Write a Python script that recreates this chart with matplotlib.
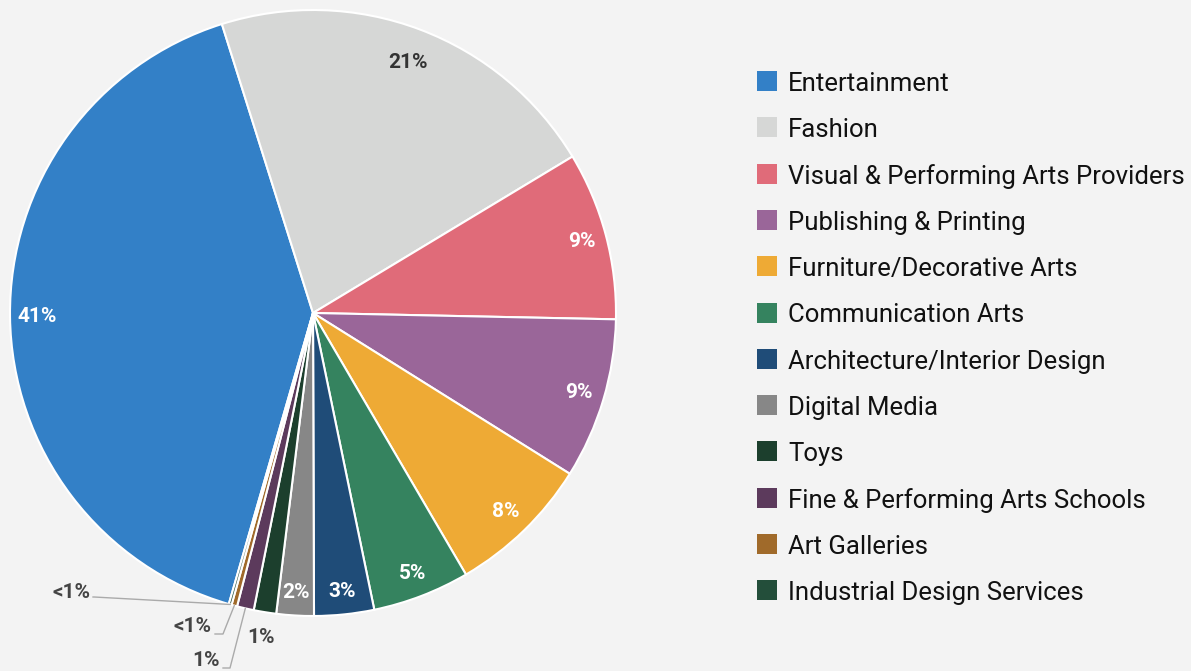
import numpy as np
import matplotlib
matplotlib.use("Agg")
import matplotlib.pyplot as plt
from matplotlib.patches import Rectangle

categories = ["Entertainment", "Fashion", "Visual & Performing Arts Providers",
              "Publishing & Printing", "Furniture/Decorative Arts", "Communication Arts",
              "Architecture/Interior Design", "Digital Media", "Toys",
              "Fine & Performing Arts Schools", "Art Galleries", "Industrial Design Services"]
values = [40.8, 21.3, 9.0, 8.6, 7.7, 5.2, 3.2, 2.0, 1.2, 0.9, 0.3, 0.15]
pct_labels = ["41%", "21%", "9%", "9%", "8%", "5%", "3%", "2%", "1%", "1%", "<1%", "<1%"]
colors = ["#3380c7", "#d6d7d6", "#e06b79", "#9a6699", "#eeaa35", "#35835f",
          "#1f4c78", "#878787", "#1c3f2d", "#5c3a5c", "#a06a2a", "#234e3a"]

BG = "#f3f3f3"
W, H = 1191, 671
fig = plt.figure(figsize=(W / 100, H / 100), dpi=100, facecolor=BG)

cx, cy, R = 313, 313, 303
ax = fig.add_axes([(cx - R) / W, (H - cy - R) / H, 2 * R / W, 2 * R / H])
ax.set_facecolor(BG)

total = sum(values)
start = 107.5 + 360 * values[0] / total
wedges, _ = ax.pie(values, colors=colors, startangle=start, counterclock=False,
                   radius=1, wedgeprops=dict(edgecolor="white", linewidth=1.5))
ax.set_xlim(-1, 1)
ax.set_ylim(-1, 1)
ax.axis("off")
for w in wedges:
    w.set_clip_on(False)

def px2d(x, y):
    return (x - cx) / R, (cy - y) / R

lab_font = dict(family="Roboto", weight="bold", fontsize=15)
inside_r = {0: 0.91, 1: 0.885, 2: 0.92, 3: 0.915, 4: 0.915, 5: 0.92, 6: 0.925, 7: 0.925}
for i, w in enumerate(wedges):
    mid = np.deg2rad((w.theta1 + w.theta2) / 2)
    if i in inside_r:
        r = inside_r[i]
        col = "#333333" if i == 1 else "white"
        ax.text(r * np.cos(mid), r * np.sin(mid), pct_labels[i], ha="center", va="center",
                color=col, **lab_font)

# Toys label just outside
w = wedges[8]
mid = np.deg2rad((w.theta1 + w.theta2) / 2)
ax.text(1.085 * np.cos(mid), 1.085 * np.sin(mid), pct_labels[8], ha="center", va="center",
        color="#444444", **lab_font)

# leader-line labels: (index, text right end px, knee px)
leaders = [(11, (90, 593), (94, 597)),
           (10, (212, 627), (223, 634)),
           (9, (220, 661), (230, 668))]
for i, tpos, knee in leaders:
    w = wedges[i]
    mid = np.deg2rad((w.theta1 + w.theta2) / 2)
    ex, ey = np.cos(mid), np.sin(mid)
    tx, ty = px2d(*tpos)
    kx, ky = px2d(*knee)
    ax.plot([tx + 0.01, kx, ex], [ky, ky, ey], color="#aaaaaa", lw=1, clip_on=False)
    ax.text(tx, ty, pct_labels[i], ha="right", va="center", color="#444444", **lab_font)

# legend
y0, dy = 81, 46.3
for i, (c, name) in enumerate(zip(colors, categories)):
    y = y0 + i * dy
    fig.patches.append(Rectangle(((757) / W, (H - y - 10) / H), 20 / W, 20 / H,
                                 transform=fig.transFigure, facecolor=c, edgecolor="none"))
    fig.text(788 / W, (H - y - 3) / H, name, ha="left", va="center", color="#111111",
             family="Roboto", fontsize=18.5)

fig.savefig("out.png", dpi=100, facecolor=BG)
